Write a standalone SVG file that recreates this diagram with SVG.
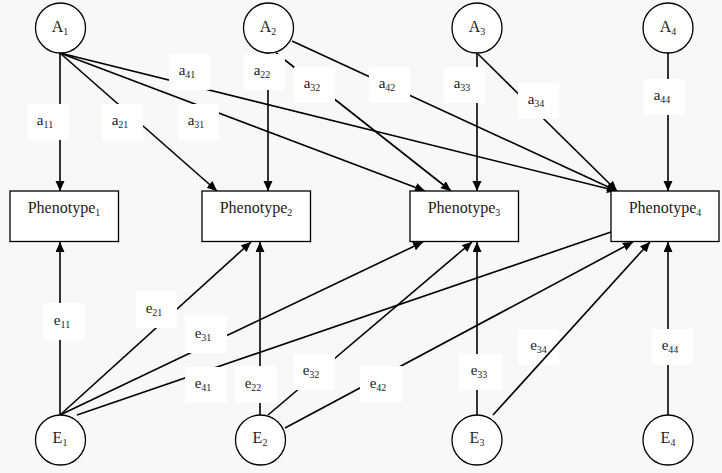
<svg xmlns="http://www.w3.org/2000/svg" width="722" height="473" viewBox="0 0 722 473">
<defs>
<marker id="arr" markerUnits="userSpaceOnUse" markerWidth="11" markerHeight="10" refX="10" refY="4.5" orient="auto">
<path d="M0,0 L10,4.5 L0,9 z" fill="#000"/>
</marker>
<style>
.bg{fill:#f8f8f8}
.c{fill:#fff;stroke:#000;stroke-width:1.3}
.b{fill:#fff;stroke:#000;stroke-width:1.3}
.e{stroke:#000;stroke-width:1.6;fill:none;marker-end:url(#arr)}
.n{stroke:#000;stroke-width:1.6;fill:none}
.lb{fill:#fff}
text{fill:#222;text-anchor:middle}
.t{font-size:16px}
.l{font-size:15px}
.s{font-size:10px}
</style>
</defs>
<rect class="bg" x="0" y="0" width="722" height="473"/>
<g font-family="'Liberation Serif', 'DejaVu Serif', 'Times New Roman', serif">
<g id="connectors">
<rect class="lb" x="518" y="329" width="41" height="36"/>
<text class="l" x="538.5" y="350">e<tspan class="s" dy="3">34</tspan></text>
<line class="e" x1="60" y1="53" x2="60" y2="191"/>
<line class="e" x1="60" y1="53" x2="217" y2="191"/>
<line class="e" x1="60" y1="53" x2="425" y2="191"/>
<line class="e" x1="60" y1="53" x2="617" y2="191"/>
<line class="e" x1="268" y1="53" x2="268" y2="191"/>
<line class="e" x1="276" y1="53" x2="451" y2="191"/>
<line class="e" x1="292" y1="41" x2="617" y2="191"/>
<line class="e" x1="477" y1="53" x2="477" y2="191"/>
<line class="e" x1="478" y1="54" x2="617" y2="191"/>
<line class="e" x1="668" y1="53" x2="668" y2="191"/>
<line class="e" x1="60" y1="415" x2="60" y2="242"/>
<line class="e" x1="60" y1="415" x2="251" y2="242"/>
<line class="e" x1="60" y1="415" x2="423" y2="242"/>
<line class="n" x1="77" y1="415" x2="611" y2="232"/>
<line class="e" x1="260" y1="415" x2="260" y2="242"/>
<line class="e" x1="268" y1="415" x2="472" y2="242"/>
<line class="e" x1="285" y1="428" x2="633" y2="242"/>
<line class="e" x1="477" y1="415" x2="477" y2="242"/>
<line class="e" x1="493" y1="415" x2="650" y2="242"/>
<line class="e" x1="668" y1="415" x2="668" y2="242"/>
<g id="labels">
<rect class="lb" x="28" y="104" width="41" height="36"/>
<text class="l" x="45" y="125">a<tspan class="s" dy="3">11</tspan></text>
<rect class="lb" x="102" y="104" width="41" height="36"/>
<text class="l" x="120" y="125">a<tspan class="s" dy="3">21</tspan></text>
<rect class="lb" x="178" y="104" width="41" height="36"/>
<text class="l" x="196" y="125">a<tspan class="s" dy="3">31</tspan></text>
<rect class="lb" x="169" y="54" width="41" height="36"/>
<text class="l" x="187" y="75">a<tspan class="s" dy="3">41</tspan></text>
<rect class="lb" x="244" y="54" width="41" height="36"/>
<text class="l" x="262" y="75">a<tspan class="s" dy="3">22</tspan></text>
<rect class="lb" x="294" y="67" width="41" height="36"/>
<text class="l" x="312" y="88">a<tspan class="s" dy="3">32</tspan></text>
<rect class="lb" x="369" y="67" width="41" height="36"/>
<text class="l" x="387" y="88">a<tspan class="s" dy="3">42</tspan></text>
<rect class="lb" x="444" y="67" width="41" height="36"/>
<text class="l" x="462" y="88">a<tspan class="s" dy="3">33</tspan></text>
<rect class="lb" x="518" y="83" width="41" height="36"/>
<text class="l" x="536" y="104">a<tspan class="s" dy="3">34</tspan></text>
<rect class="lb" x="644" y="79" width="41" height="36"/>
<text class="l" x="662" y="100">a<tspan class="s" dy="3">44</tspan></text>
<rect class="lb" x="43" y="303" width="42" height="37"/>
<text class="l" x="62" y="325">e<tspan class="s" dy="3">11</tspan></text>
<rect class="lb" x="136" y="291" width="41" height="37"/>
<text class="l" x="154" y="313">e<tspan class="s" dy="3">21</tspan></text>
<rect class="lb" x="185" y="316" width="42" height="37"/>
<text class="l" x="203" y="338">e<tspan class="s" dy="3">31</tspan></text>
<rect class="lb" x="185" y="367" width="42" height="36"/>
<text class="l" x="203" y="388">e<tspan class="s" dy="3">41</tspan></text>
<rect class="lb" x="235" y="366" width="42" height="37"/>
<text class="l" x="253" y="388">e<tspan class="s" dy="3">22</tspan></text>
<rect class="lb" x="293" y="354" width="42" height="36"/>
<text class="l" x="311" y="375">e<tspan class="s" dy="3">32</tspan></text>
<rect class="lb" x="360" y="366" width="42" height="37"/>
<text class="l" x="378" y="388">e<tspan class="s" dy="3">42</tspan></text>
<rect class="lb" x="459" y="354" width="43" height="36"/>
<text class="l" x="479" y="375">e<tspan class="s" dy="3">33</tspan></text>
<rect class="lb" x="652" y="329" width="41" height="36"/>
<text class="l" x="670" y="350">e<tspan class="s" dy="3">44</tspan></text>
</g>
</g>
<g id="A1"><circle class="c" cx="60.5" cy="28" r="25"/><text class="t" x="60" y="32">A<tspan class="s" dy="3">1</tspan></text></g>
<g id="A2"><circle class="c" cx="268.5" cy="28" r="25"/><text class="t" x="268" y="32">A<tspan class="s" dy="3">2</tspan></text></g>
<g id="A3"><circle class="c" cx="477" cy="28" r="25"/><text class="t" x="477" y="32">A<tspan class="s" dy="3">3</tspan></text></g>
<g id="A4"><circle class="c" cx="668" cy="28" r="25"/><text class="t" x="668" y="32">A<tspan class="s" dy="3">4</tspan></text></g>
<g id="P1"><rect class="b" x="10" y="191" width="108.5" height="50.5"/><text class="t" x="64" y="213">Phenotype<tspan class="s" dy="3">1</tspan></text></g>
<g id="P2"><rect class="b" x="202" y="191" width="108.5" height="50.5"/><text class="t" x="256" y="213">Phenotype<tspan class="s" dy="3">2</tspan></text></g>
<g id="P3"><rect class="b" x="410" y="191" width="108.5" height="50.5"/><text class="t" x="464" y="213">Phenotype<tspan class="s" dy="3">3</tspan></text></g>
<g id="P4"><rect class="b" x="611" y="191" width="108" height="50.5"/><text class="t" x="665" y="213">Phenotype<tspan class="s" dy="3">4</tspan></text></g>
<g id="E1"><circle class="c" cx="60.5" cy="440" r="25"/><text class="t" x="60" y="443">E<tspan class="s" dy="3">1</tspan></text></g>
<g id="E2"><circle class="c" cx="260.5" cy="440" r="25"/><text class="t" x="260" y="443">E<tspan class="s" dy="3">2</tspan></text></g>
<g id="E3"><circle class="c" cx="477" cy="440" r="25"/><text class="t" x="477" y="443">E<tspan class="s" dy="3">3</tspan></text></g>
<g id="E4"><circle class="c" cx="668" cy="440" r="25"/><text class="t" x="668" y="443">E<tspan class="s" dy="3">4</tspan></text></g>
</g>
</svg>
